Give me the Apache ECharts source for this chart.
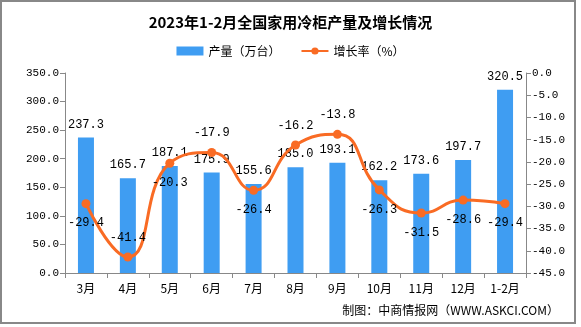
<!DOCTYPE html>
<html><head><meta charset="utf-8">
<script src="https://cdn.jsdelivr.net/npm/echarts@6/dist/echarts.min.js"></script>
<style>html,body{margin:0;padding:0;background:#fff}#c{width:581px;height:327px}</style>
</head><body><div id="c"></div>
<script>
var categories = ['3月','4月','5月','6月','7月','8月','9月','10月','11月','12月','1-2月'];
var production = [237.3,165.7,187.1,175.9,155.6,185.0,193.1,162.2,173.6,197.7,320.5];
var growth = [-29.4,-41.4,-20.3,-17.9,-26.4,-16.2,-13.8,-26.3,-31.5,-28.6,-29.4];
var growthLabelPos = ['bottom','top','bottom','top','bottom','top','top','bottom','bottom','bottom','bottom'];

var numFont = 'Liberation Mono, DejaVu Sans Mono, monospace';
var cjkFont = 'Noto Sans CJK SC';
var chart = echarts.init(document.getElementById('c'));
chart.setOption({
  animation: false,
  title: {
    text: '2023年1-2月全国家用冷柜产量及增长情况',
    left: 'center', top: 10,
    textStyle: {fontFamily: cjkFont, fontSize: 15, fontWeight: 'bold', color: '#000'}
  },
  legend: {
    top: 40, left: 'center', itemGap: 20, itemWidth: 27, itemHeight: 9,
    textStyle: {fontFamily: cjkFont, fontSize: 12, color: '#000'},
    data: [{name: '产量（万台）', icon: 'rect'}, {name: '增长率（%）'}]
  },
  graphic: [
    {type: 'rect', shape: {x: 1, y: 1, width: 574, height: 322}, style: {fill: 'none', stroke: '#888', lineWidth: 2}, silent: true},
    {type: 'text', right: 22, top: 304, style: {text: '制图：中商情报网（WWW.ASKCI.COM）', fontFamily: cjkFont, fontSize: 12, fill: '#000'}}
  ],
  grid: {left: 65, right: 55, top: 73, bottom: 54},
  xAxis: {
    type: 'category', data: categories, boundaryGap: true,
    axisLine: {lineStyle: {color: '#888'}},
    axisTick: {show: true, alignWithLabel: false, length: 5, lineStyle: {color: '#888'}},
    axisLabel: {fontFamily: cjkFont, fontSize: 12, color: '#000', margin: 9, interval: 0}
  },
  yAxis: [
    {type: 'value', min: 0, max: 350, interval: 50,
     splitLine: {show: false},
     axisLine: {show: true, lineStyle: {color: '#888'}},
     axisTick: {show: true, length: 5, lineStyle: {color: '#888'}},
     axisLabel: {fontFamily: numFont, fontSize: 11, color: '#000', margin: 6, formatter: function(v){return v.toFixed(1);}}
    },
    {type: 'value', min: -45, max: 0, interval: 5, position: 'right',
     splitLine: {show: false},
     axisLine: {show: true, lineStyle: {color: '#888'}},
     axisTick: {show: true, length: 5, lineStyle: {color: '#888'}},
     axisLabel: {fontFamily: numFont, fontSize: 11, color: '#000', margin: 6, formatter: function(v){return v.toFixed(1);}}
    }
  ],
  series: [
    {name: '产量（万台）', type: 'bar', data: production, barWidth: 16,
     itemStyle: {color: '#3F9DF2'},
     label: {show: true, position: 'top', distance: 7, fontFamily: numFont, fontSize: 12, color: '#000',
       formatter: function(p){return p.value.toFixed(1);}}
    },
    {name: '增长率（%）', type: 'line', yAxisIndex: 1, smooth: true,
     data: growth.map(function(v, i){return {value: v, label: {position: growthLabelPos[i]}};}),
     symbol: 'circle', symbolSize: 9,
     lineStyle: {color: '#F96B24', width: 3},
     itemStyle: {color: '#F96B24'},
     label: {show: true, distance: 9, fontFamily: numFont, fontSize: 12, color: '#000',
       formatter: function(p){return p.value.toFixed(1);}}
    }
  ]
});
</script></body></html>
